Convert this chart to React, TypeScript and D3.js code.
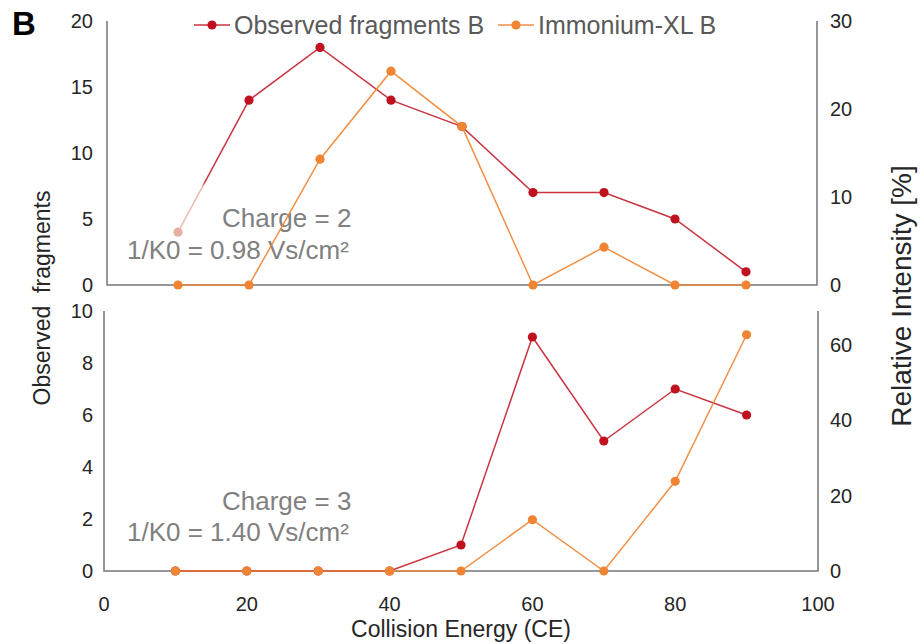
import React from "react";
import { scaleLinear, line as d3line } from "d3";

// collision energies shared by both panels
const ce = [10, 20, 30, 40, 50, 60, 70, 80, 90];

// charge 2 (top panel)
const obsTop = [4, 14, 18, 14, 12, 7, 7, 5, 1];
const immTop = [0, 0, 14.3, 24.3, 18, 0, 4.3, 0, 0];

// charge 3 (bottom panel)
const obsBottom = [0, 0, 0, 0, 1, 9, 5, 7, 6];
const immBottom = [0, 0, 0, 0, 0, 13.6, 0, 23.8, 62.7];

const xTicks = [0, 20, 40, 60, 80, 100];
const leftTicksTop = [0, 5, 10, 15, 20];
const rightTicksTop = [0, 10, 20, 30];
const leftTicksBottom = [0, 2, 4, 6, 8, 10];
const rightTicksBottom = [0, 20, 40, 60];

const seriesNames = ["Observed fragments B", "Immonium-XL B"];
const annotTop = ["Charge = 2", "1/K0 = 0.98 Vs/cm²"];
const annotBottom = ["Charge = 3", "1/K0 = 1.40 Vs/cm²"];

const RED = "#c0111f";
const ORANGE = "#ef8433";
const PALE = "#e8aea3";
const AXIS = "#767676";
const FONT = "'Liberation Sans', Arial, sans-serif";

type PanelProps = {
  id: string;
  x0: number;
  x1: number;
  yTop: number;
  yBottom: number;
  leftMax: number;
  rightMax: number;
  leftTicks: number[];
  rightTicks: number[];
  obs: number[];
  imm: number[];
  annot: string[];
  annotY: number[];
  fadeFirst?: boolean;
};

function Panel(p: PanelProps) {
  const x = scaleLinear().domain([0, 100]).range([p.x0, p.x1]);
  const yL = scaleLinear().domain([0, p.leftMax]).range([p.yBottom, p.yTop]);
  const yR = scaleLinear().domain([0, p.rightMax]).range([p.yBottom, p.yTop]);

  const obsPts = ce.map((c, i) => [x(c), yL(p.obs[i])] as [number, number]);
  const immPts = ce.map((c, i) => [x(c), yR(p.imm[i])] as [number, number]);
  const path = d3line();

  return (
    <g>
      {p.fadeFirst && (
        <defs>
          <linearGradient
            id={p.id + "-fade"}
            gradientUnits="userSpaceOnUse"
            x1={obsPts[0][0]}
            y1={obsPts[0][1]}
            x2={obsPts[1][0]}
            y2={obsPts[1][1]}
          >
            <stop offset="0" stopColor={PALE} />
            <stop offset="0.34" stopColor={PALE} />
            <stop offset="0.38" stopColor={RED} />
            <stop offset="1" stopColor={RED} />
          </linearGradient>
        </defs>
      )}
      {/* axes */}
      <path
        d={`M${p.x0},${p.yTop}V${p.yBottom}H${p.x1}V${p.yTop}`}
        fill="none"
        stroke={AXIS}
        strokeWidth={1.5}
      />
      {p.leftTicks.map((t) => (
        <text key={"l" + t} x={93} y={yL(t)} dy="0.36em" textAnchor="end" fontSize={20} fill="#262626">
          {t}
        </text>
      ))}
      {p.rightTicks.map((t) => (
        <text key={"r" + t} x={830} y={yR(t)} dy="0.36em" fontSize={20} fill="#262626">
          {t}
        </text>
      ))}
      {/* annotation */}
      <text x={222} y={p.annotY[0]} fontSize={26} fill="#808080">{p.annot[0]}</text>
      <text x={127} y={p.annotY[1]} fontSize={26} fill="#808080">{p.annot[1]}</text>
      {/* observed fragments */}
      {p.fadeFirst ? (
        <>
          <path d={path(obsPts.slice(0, 2)) || ""} fill="none" stroke={`url(#${p.id}-fade)`} strokeWidth={1.5} opacity={0.85} />
          <path d={path(obsPts.slice(1)) || ""} fill="none" stroke={RED} strokeWidth={1.5} opacity={0.85} />
        </>
      ) : (
        <path d={path(obsPts) || ""} fill="none" stroke={RED} strokeWidth={1.5} opacity={0.85} />
      )}
      {obsPts.map((d, i) => (
        <circle key={"o" + i} cx={d[0]} cy={d[1]} r={4.6} fill={p.fadeFirst && i === 0 ? PALE : RED} />
      ))}
      {/* immonium */}
      <path d={path(immPts) || ""} fill="none" stroke={ORANGE} strokeWidth={1.5} opacity={0.9} />
      {immPts.map((d, i) => (
        <circle key={"i" + i} cx={d[0]} cy={d[1]} r={4.6} fill={ORANGE} />
      ))}
    </g>
  );
}

export default function App() {
  const x = scaleLinear().domain([0, 100]).range([104, 818]);
  return (
    <div style={{ position: "absolute", left: 0, top: 0 }}>
      <svg width={920} height={644} style={{ display: "block", background: "#fff" }} fontFamily={FONT}>
        <text x={12} y={35} fontSize={33} fontWeight="bold" fill="#000">B</text>

        <Panel
          id="top"
          x0={107}
          x1={817}
          yTop={21}
          yBottom={285}
          leftMax={20}
          rightMax={30}
          leftTicks={leftTicksTop}
          rightTicks={rightTicksTop}
          obs={obsTop}
          imm={immTop}
          annot={annotTop}
          annotY={[227, 259]}
          fadeFirst
        />
        <Panel
          id="bottom"
          x0={104}
          x1={818}
          yTop={311}
          yBottom={571}
          leftMax={10}
          rightMax={69}
          leftTicks={leftTicksBottom}
          rightTicks={rightTicksBottom}
          obs={obsBottom}
          imm={immBottom}
          annot={annotBottom}
          annotY={[510, 541]}
        />

        {/* x ticks */}
        {xTicks.map((t) => (
          <text key={t} x={x(t)} y={604} dy="0.36em" textAnchor="middle" fontSize={20} fill="#262626">
            {t}
          </text>
        ))}
        <text x={x(50)} y={637} textAnchor="middle" fontSize={23} fill="#262626">
          Collision Energy (CE)
        </text>

        {/* y labels */}
        <text transform="translate(50,298) rotate(-90)" textAnchor="middle" fontSize={23} fill="#262626" style={{ whiteSpace: "pre" }}>
          {"Observed  fragments"}
        </text>
        <text transform="translate(911,296) rotate(-90)" textAnchor="middle" fontSize={28} fill="#262626">
          Relative Intensity [%]
        </text>

        {/* legend */}
        <line x1={194} x2={230} y1={25} y2={25} stroke={RED} strokeWidth={1.5} opacity={0.85} />
        <circle cx={212} cy={25} r={4.6} fill={RED} />
        <text x={234} y={34} fontSize={25} fill="#595959">{seriesNames[0]}</text>
        <line x1={498} x2={534} y1={25} y2={25} stroke={ORANGE} strokeWidth={1.5} opacity={0.9} />
        <circle cx={516} cy={25} r={4.6} fill={ORANGE} />
        <text x={538} y={34} fontSize={25} fill="#595959">{seriesNames[1]}</text>
      </svg>
    </div>
  );
}
